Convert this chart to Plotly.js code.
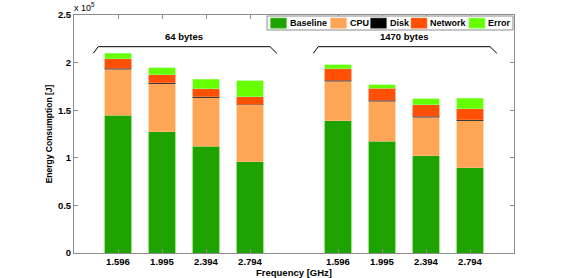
<!DOCTYPE html>
<html>
<head>
<meta charset="utf-8">
<script src="https://cdn.plot.ly/plotly-3.0.1.min.js"></script>
<style>html,body{margin:0;padding:0;background:#fff;}#chart{width:568px;height:278px;}</style>
</head>
<body>
<div id="chart"></div>
<script>
// Data (Joules)
const groups = ["64 bytes", "1470 bytes"];
const frequencies = ["1.596", "1.995", "2.394", "2.794"];
const baseline = [144600, 127400, 112400, 95600, 138700, 117600, 101900, 89300];
const cpu      = [48400, 50500, 50800, 59900, 41700, 41800, 40700, 49700];
const disk     = [1000, 1000, 1000, 1000, 1000, 1000, 1000, 1000];
const network  = [9800, 8400, 8100, 7700, 12200, 12900, 11900, 11300];
const errorE   = [6000, 7300, 10100, 16800, 4200, 3200, 6300, 11500];
const seriesNames = ["Baseline", "CPU", "Disk", "Network", "Error"];
const yTickVals = [0, 50000, 100000, 150000, 200000, 250000];
const yTickText = ["0", "0.5", "1", "1.5", "2", "2.5"];

// positions: groups separated by an empty slot
const xpos = [];
const xlabels = [];
groups.forEach((g, gi) => frequencies.forEach((f, i) => { xpos.push(1 + i + gi * 5); xlabels.push(f); }));

const values = [baseline, cpu, disk, network, errorE];
const colors = ["#1fa300", "#ffa556", "#000000", "#ff5005", "#66ff00"];
const edges  = ["#5fd040", "#ffc090", "#606060", "#ff8050", "#a0ff80"];

const traces = seriesNames.map((n, k) => ({
  type: "bar", name: n, x: xpos, y: values[k], width: 0.6,
  marker: {color: colors[k], line: {color: edges[k], width: 0.6}},
  hoverinfo: "skip", showlegend: false
}));

const M = {l: 74, r: 54, t: 15, b: 25};
const W = 568, H = 278;
const pw = W - M.l - M.r, ph = H - M.t - M.b;
const px2x = p => (p - M.l) / pw;
const py2y = p => (H - M.b - p) / ph;
const font = {family: "Liberation Sans", size: 9.5, weight: "bold", color: "#000"};
const legFont = {family: "Liberation Sans", size: 9, weight: "bold", color: "#000"};

const shapes = [];
const annotations = [];

// group brackets
groups.forEach((g, gi) => {
  const first = 1 + gi * 5, last = first + frequencies.length - 1;
  const x0 = first - 0.56, x1 = first - 0.45, x2 = last + 0.455, x3 = last + 0.61;
  const yLow = 209800, yHigh = 216700;
  shapes.push({type: "path", xref: "x", yref: "y",
    path: `M ${x0},${yLow} L ${x1},${yHigh} L ${x2},${yHigh} L ${x3},${yLow}`,
    line: {color: "#000", width: 1}});
  annotations.push({xref: "x", yref: "y", x: (x1 + x2) / 2, y: 227000, text: g,
    showarrow: false, font: font});
});
annotations.push({xref: "paper", yref: "paper", x: -0.005, y: 1.0, xanchor: "left", yanchor: "bottom",
  text: "x 10<sup>5</sup>", showarrow: false,
  font: {family: "Liberation Sans", size: 9, color: "#000"}});

// legend (drawn by hand to match the compact box)
const legBox = {x0: 267, x1: 513, y0: 16, y1: 30};
shapes.push({type: "rect", xref: "paper", yref: "paper",
  x0: px2x(legBox.x0), x1: px2x(legBox.x1), y0: py2y(legBox.y1), y1: py2y(legBox.y0),
  fillcolor: "#fff", line: {color: "#8c8c8c", width: 1}, layer: "above"});
const swatchX = [270.5, 330.5, 370.5, 411, 469];
seriesNames.forEach((n, k) => {
  const sx = swatchX[k];
  shapes.push({type: "rect", xref: "paper", yref: "paper",
    x0: px2x(sx), x1: px2x(sx + 16), y0: py2y(28.3), y1: py2y(18),
    fillcolor: colors[k], line: {color: edges[k], width: 0.6}, layer: "above"});
  annotations.push({xref: "paper", yref: "paper", x: px2x(sx + 17), y: py2y(23.2),
    xanchor: "left", yanchor: "middle", text: n, showarrow: false, font: legFont});
});

const layout = {
  width: W, height: H,
  margin: M,
  barmode: "stack",
  paper_bgcolor: "#fff", plot_bgcolor: "#fff",
  showlegend: false,
  xaxis: {range: [0, 10], tickvals: xpos, ticktext: xlabels,
    showgrid: false, zeroline: false, showline: true, linecolor: "#8c8c8c", linewidth: 1,
    mirror: "ticks", ticks: "inside", ticklen: 4, tickcolor: "#8c8c8c",
    tickfont: font,
    title: {text: "Frequency [GHz]", standoff: 0, font: font}},
  yaxis: {range: [0, 250000], tickvals: yTickVals, ticktext: yTickText,
    showgrid: false, zeroline: false, showline: true, linecolor: "#8c8c8c", linewidth: 1,
    mirror: "ticks", ticks: "inside", ticklen: 4, tickcolor: "#8c8c8c",
    tickfont: font,
    title: {text: "Energy Consumption [J]", standoff: 3,
      font: {family: "Liberation Sans", size: 8.5, weight: "bold", color: "#000"}}},
  shapes: shapes,
  annotations: annotations
};

Plotly.newPlot("chart", traces, layout, {staticPlot: true, displayModeBar: false});
</script>
</body>
</html>
